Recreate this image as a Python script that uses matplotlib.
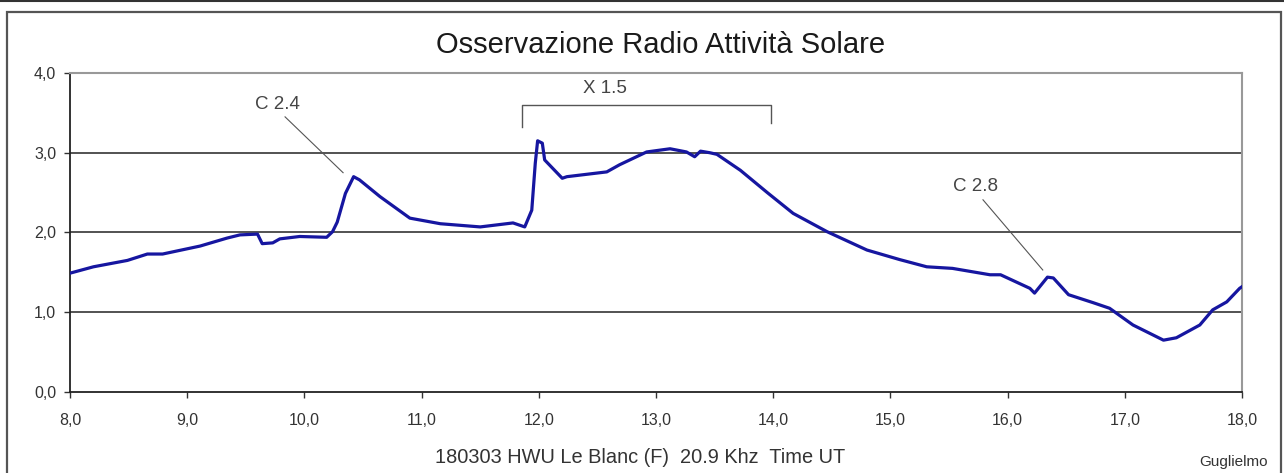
import matplotlib
matplotlib.use("Agg")
import matplotlib.pyplot as plt
from matplotlib.patches import Rectangle
from matplotlib.lines import Line2D

plt.rcParams['font.family'] = ['Liberation Sans', 'DejaVu Sans']

# Time UT (hours) and signal level
time_ut = [8.00, 8.20, 8.49, 8.66, 8.79, 9.11, 9.34, 9.45, 9.60, 9.64, 9.73, 9.79,
           9.96, 10.19, 10.24, 10.28, 10.35, 10.42, 10.47, 10.645, 10.90, 11.16,
           11.50, 11.78, 11.88, 11.94, 11.97, 11.99, 12.03, 12.05, 12.20, 12.24,
           12.58, 12.69, 12.92, 13.12, 13.26, 13.33, 13.38, 13.46, 13.52, 13.72,
           13.95, 14.17, 14.46, 14.80, 15.08, 15.31, 15.53, 15.85, 15.94, 16.19,
           16.23, 16.34, 16.39, 16.52, 16.73, 16.87, 17.07, 17.33, 17.44, 17.64,
           17.75, 17.87, 17.98, 18.00]
signal = [1.49, 1.57, 1.65, 1.73, 1.73, 1.83, 1.93, 1.97, 1.98, 1.86, 1.87, 1.92,
          1.95, 1.94, 2.01, 2.13, 2.49, 2.70, 2.66, 2.45, 2.18, 2.11,
          2.07, 2.12, 2.07, 2.28, 2.87, 3.15, 3.12, 2.91, 2.68, 2.70,
          2.76, 2.85, 3.01, 3.05, 3.01, 2.95, 3.02, 3.00, 2.98, 2.78,
          2.50, 2.24, 2.01, 1.78, 1.66, 1.57, 1.55, 1.47, 1.47, 1.30,
          1.24, 1.44, 1.43, 1.22, 1.12, 1.05, 0.84, 0.65, 0.68, 0.84,
          1.03, 1.13, 1.30, 1.32]

x_ticks = [8, 9, 10, 11, 12, 13, 14, 15, 16, 17, 18]
y_ticks = [0, 1, 2, 3, 4]

title = "Osservazione Radio Attività Solare"
x_label = "180303 HWU Le Blanc (F)  20.9 Khz  Time UT"
author = "Guglielmo"

W, H = 1284, 473
fig = plt.figure(figsize=(W / 100, H / 100), dpi=100)
fig.patch.set_facecolor('white')

# outer frame
fig.add_artist(Rectangle((7 / W, -0.02), (1281 - 7) / W, (H - 12) / H + 0.02,
                         transform=fig.transFigure, fill=False,
                         edgecolor='#555555', linewidth=1.6))
fig.add_artist(Line2D([0, 1], [1 - 0.8 / H, 1 - 0.8 / H], transform=fig.transFigure,
                      color='#333333', linewidth=1.5))

ax = fig.add_axes([70 / W, (H - 392) / H, (1242 - 70) / W, (392 - 73) / H])
ax.set_xlim(8, 18)
ax.set_ylim(0, 4)

for v in [1, 2, 3]:
    ax.axhline(v, color='#444444', linewidth=1.3, zorder=1)

ax.plot(time_ut, signal, color='#1616a0', linewidth=2.3, zorder=3,
        solid_joinstyle='round')

ax.spines['left'].set_color('#222222')
ax.spines['bottom'].set_color('#222222')
ax.spines['left'].set_linewidth(1.3)
ax.spines['bottom'].set_linewidth(1.3)
ax.spines['top'].set_color('#999999')
ax.spines['right'].set_color('#999999')
ax.spines['top'].set_linewidth(1.5)
ax.spines['right'].set_linewidth(1.5)

ax.set_xticks(x_ticks)
ax.set_xticklabels([f"{v:.1f}".replace('.', ',') for v in x_ticks])
ax.set_yticks(y_ticks)
ax.set_yticklabels([f"{v:.1f}".replace('.', ',') for v in y_ticks])
ax.tick_params(axis='both', direction='out', length=4, width=1, color='#333333',
               labelsize=11.5, labelcolor='#333333')
ax.tick_params(axis='x', pad=11)
ax.tick_params(axis='y', pad=6)

fig.text(661 / W, 1 - 45 / H, title, ha='center', va='center', fontsize=21, color='#1a1a1a')
fig.text(640 / W, 1 - 457 / H, x_label, ha='center', va='center', fontsize=14.4, color='#333333')
fig.text(1233 / W, 1 - 462 / H, author, ha='center', va='center', fontsize=11, color='#333333')

# annotations
ann_col = '#444444'
ax.text(9.77, 3.60, "C 2.4", ha='center', va='center', fontsize=13.5, color=ann_col)
ax.plot([9.835, 10.33], [3.45, 2.75], color='#555555', linewidth=0.8, zorder=2)
ax.text(15.73, 2.58, "C 2.8", ha='center', va='center', fontsize=13.5, color=ann_col)
ax.plot([15.79, 16.30], [2.41, 1.53], color='#555555', linewidth=0.8, zorder=2)
ax.text(12.565, 3.80, "X 1.5", ha='center', va='center', fontsize=13.5, color=ann_col)
ax.plot([11.857, 11.857, 13.98, 13.98], [3.32, 3.60, 3.60, 3.37],
        color='#555555', linewidth=1.0, zorder=2, clip_on=False)

fig.savefig("out.png", dpi=100)
